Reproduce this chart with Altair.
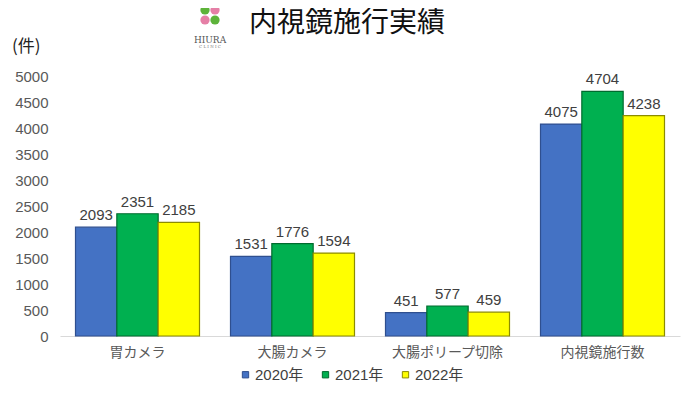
import altair as alt
import pandas as pd

categories = ["胃カメラ", "大腸カメラ", "大腸ポリープ切除", "内視鏡施行数"]
years = ["2020年", "2021年", "2022年"]
v2020 = [2093, 1531, 451, 4075]
v2021 = [2351, 1776, 577, 4704]
v2022 = [2185, 1594, 459, 4238]
y_ticks = [0, 500, 1000, 1500, 2000, 2500, 3000, 3500, 4000, 4500, 5000]
title_text = "内視鏡施行実績"
unit_text = "(件)"

rows = []
for yr, vals in zip(years, [v2020, v2021, v2022]):
    for c, v in zip(categories, vals):
        rows.append({"category": c, "year": yr, "value": v})
df = pd.DataFrame(rows)

fills = ["#4472C4", "#00B050", "#FFFF00"]
strokes = ["#2F4F8F", "#006B2E", "#8C8C00"]
FONT = "Liberation Sans, Noto Sans CJK JP"

x_enc = alt.X("category:N", sort=categories,
              scale=alt.Scale(paddingInner=0.2, paddingOuter=0.1),
              axis=alt.Axis(title=None, labelAngle=0, ticks=False, domain=True, grid=False,
                            domainColor="#D9D9D9", domainWidth=1,
                            labelFontSize=14, labelColor="#595959", labelPadding=9,
                            labelFont=FONT))
xoff = alt.XOffset("year:N", sort=years)
y_enc = alt.Y("value:Q", scale=alt.Scale(domain=[0, 5000], nice=False),
              axis=alt.Axis(title=None, values=y_ticks, grid=False, domain=False, ticks=False,
                            format="d",
                            labelFontSize=15, labelColor="#595959", labelPadding=12,
                            labelFont=FONT))

base = alt.Chart(df)
bars = base.mark_bar(strokeWidth=1.2).encode(
    x=x_enc, xOffset=xoff, y=y_enc,
    color=alt.Color("year:N", sort=years, scale=alt.Scale(domain=years, range=fills),
                    legend=alt.Legend(title=None, orient="none", direction="horizontal",
                                      legendX=178, legendY=291, symbolType="square",
                                      symbolSize=40, symbolStrokeWidth=1,
                                      labelFontSize=15, labelColor="#404040", labelFont=FONT,
                                      labelOffset=2, columnPadding=14)),
    stroke=alt.Stroke("year:N", sort=years, scale=alt.Scale(domain=years, range=strokes),
                      legend=None),
)
labels = base.mark_text(baseline="bottom", dy=-4, fontSize=15, color="#404040", font=FONT).encode(
    x=x_enc, xOffset=xoff, y=y_enc,
    text=alt.Text("value:Q", format="d"),
)

title = alt.Chart(pd.DataFrame({"t": [title_text]})).mark_text(
    fontSize=28, font="Noto Sans CJK JP", color="#111111", align="center", baseline="middle"
).encode(text="t:N", x=alt.value(287), y=alt.value(-52))

unit = alt.Chart(pd.DataFrame({"t": [unit_text]})).mark_text(
    fontSize=17, font="Noto Sans CJK JP", color="#222222", align="left", baseline="middle"
).encode(text="t:N", x=alt.value(-48), y=alt.value(-29))

def leaf(dx, dy, col):
    return alt.Chart(pd.DataFrame({"k": [0]})).mark_circle(size=85, opacity=1, color=col).encode(
        x=alt.value(150 + dx), y=alt.value(-61 + dy))

logo_leaves = [leaf(-5, -5, "#5DB33A"), leaf(5, -5, "#E57FA6"),
               leaf(-5, 5, "#E57FA6"), leaf(5, 5, "#5DB33A")]
logo_text = alt.Chart(pd.DataFrame({"t": ["HIURA"]})).mark_text(
    fontSize=9, font="DejaVu Serif", color="#555555", align="center", baseline="middle"
).encode(text="t:N", x=alt.value(150), y=alt.value(-36))
logo_text2 = alt.Chart(pd.DataFrame({"t": ["C L I N I C"]})).mark_text(
    fontSize=4, font="DejaVu Serif", color="#777777", align="center", baseline="middle"
).encode(text="t:N", x=alt.value(150), y=alt.value(-29))

chart = alt.layer(bars, labels, title, unit, *logo_leaves, logo_text, logo_text2).properties(
    width=620, height=260,
    background="white",
    autosize=alt.AutoSizeParams(type="none"),
    padding={"left": 52, "top": 68, "right": 12, "bottom": 50},
).configure_view(strokeWidth=0, stroke="transparent")

chart.save("out.html", embed_options={"renderer": "svg", "actions": False})
